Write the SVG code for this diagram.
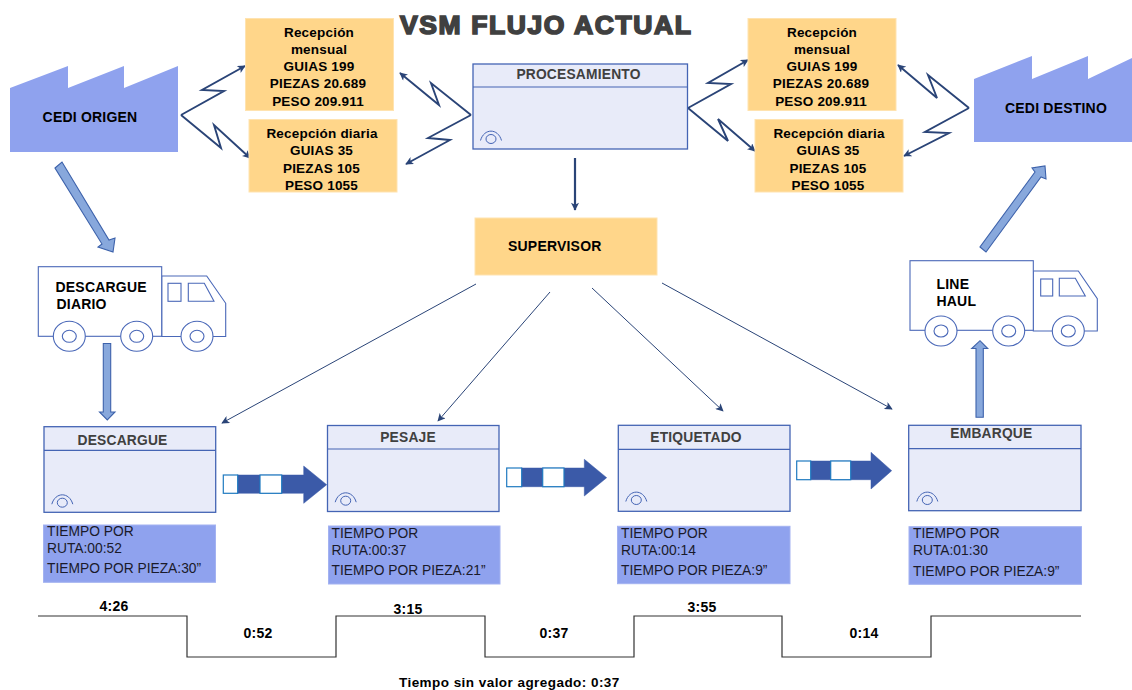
<svg xmlns="http://www.w3.org/2000/svg" xmlns:xlink="http://www.w3.org/1999/xlink" width="1132" height="690" viewBox="0 0 1132 690">
<style>
text{font-family:"Liberation Sans",Arial,sans-serif;fill:#000}
.b{font-weight:bold;font-size:13.5px;letter-spacing:.2px}
.k{font-weight:bold;font-size:14px;letter-spacing:.2px}
.m{text-anchor:middle}
.g{fill:#404040;font-size:13.8px;font-weight:bold;letter-spacing:.2px}
.d{font-size:13.8px;fill:#1a1a2a}
.y{fill:#ffd68a;stroke:#ffe3b0;stroke-width:1}
.f{fill:#8fa2ee}
.db{fill:#8fa2ee;stroke:#a3b2f1;stroke-width:1}
.p{fill:#e8ebf9;stroke:#4464b4;stroke-width:1.3}
.l{stroke:#4464b4;stroke-width:1.2;fill:none}
.t{fill:#fff;stroke:#4a68b8;stroke-width:1.1}
.z{fill:none;stroke:#2a4477;stroke-width:1.9}
.thin{stroke:#2a4477;stroke-width:1;fill:none}
.ba{fill:#88a8dc;stroke:#3d62ab;stroke-width:1.1}
.sa{fill:#3b5aa8;stroke:#3b5aa8;stroke-width:.5}
.ws{fill:#fff;stroke:#1f7ac0;stroke-width:1.2}
.tl{fill:none;stroke:#333;stroke-width:1.2}
</style>
<defs>
<marker id="ah" viewBox="0 0 10 10" refX="9" refY="5" markerWidth="9" markerHeight="8" markerUnits="userSpaceOnUse" orient="auto"><path d="M0 0L10 5L0 10L2.500 5Z" fill="#2a4477"/></marker>
<g id="eye"><path d="M-10.500 1.500C-7-11 7-11 10.500 1.500" fill="none" stroke="#4464b4" stroke-width="1"/><ellipse rx="5" ry="4.500" fill="none" stroke="#4464b4" stroke-width="1"/></g>
<g id="wheel"><ellipse rx="16" ry="15" class="t"/><ellipse rx="7" ry="6" class="t"/></g>
</defs>

<g id="title"><text x="400" y="33.500" font-size="26.500" font-weight="bold" textLength="291" lengthAdjust="spacing" style="fill:#404040;stroke:#404040;stroke-width:1.700">VSM FLUJO ACTUAL</text></g>

<g id="connectors">
<path class="z" marker-end="url(#ah)" d="M181 115L224 91L202 90L245 66"/>
<path class="z" marker-end="url(#ah)" d="M181 115L221 148L214 125L250 158"/>
<path class="z" marker-end="url(#ah)" d="M471 115L431 83L439 105L400 73"/>
<path class="z" marker-end="url(#ah)" d="M471 115L428 138L450 140L406 164"/>
<path class="z" marker-end="url(#ah)" d="M688 108L731 84L708 83L748 60"/>
<path class="z" marker-end="url(#ah)" d="M688 108L728 141L718 119L755 151"/>
<path class="z" marker-end="url(#ah)" d="M969 108L928 75L937 98L898 65"/>
<path class="z" marker-end="url(#ah)" d="M969 108L925 132L949 133L904 156"/>
<path class="z" style="stroke-width:2.200" marker-end="url(#ah)" d="M575 158V210"/>
<path class="thin" marker-end="url(#ah)" d="M476 284L222 423"/>
<path class="thin" marker-end="url(#ah)" d="M550 292L438 421"/>
<path class="thin" marker-end="url(#ah)" d="M592 288L723 411"/>
<path class="thin" marker-end="url(#ah)" d="M662 283L892 409"/>
<polygon class="ba" points="55,168 62,162 109,240 115,238 113,252 98,247 102,244"/>
<polygon class="ba" points="980,247 986,252 1041,177 1046,179 1045,166 1032,168 1035,172"/>
<polygon class="ba" points="103.300,343.500 110.700,343.500 110.700,412 115,412 107.300,420 99.500,412 103.300,412"/>
<polygon class="ba" points="976,417.300 983.300,417.300 983.300,348.500 987.700,348.500 980,340.700 971.700,348.500 976,348.500"/>
<g id="push1"><polygon class="sa" points="237,475 303.700,475 303.700,466 326.700,484.700 303.700,503.300 303.700,493.300 237,493.300"/><rect class="ws" x="223.300" y="475" width="14.400" height="18.300"/><rect class="ws" x="260" y="475" width="21.700" height="18.300"/></g>
<g id="push2"><polygon class="sa" points="521,468 584.300,468 584.300,459.300 606.700,477.700 584.300,496 584.300,486.700 521,486.700"/><rect class="ws" x="506.700" y="468" width="15" height="18.700"/><rect class="ws" x="542.700" y="468" width="21.300" height="18.700"/></g>
<g id="push3"><polygon class="sa" points="810,461 871,461 871,452.300 891.700,470.700 871,489 871,479.700 810,479.700"/><rect class="ws" x="796.700" y="461" width="14" height="18.700"/><rect class="ws" x="830.700" y="461" width="20" height="18.700"/></g>
</g>

<g id="cedi-origen"><polygon class="f" points="10,88 68,66 68,88 124,66 124,88 178,66 178,152 10,152"/><text class="k m" x="90" y="122">CEDI ORIGEN</text></g>
<g id="cedi-destino"><polygon class="f" points="974,79 1032,56 1032,79 1088,56 1088,79 1132,58 1132,142 974,142"/><text class="k m" x="1056" y="113">CEDI DESTINO</text></g>

<g id="recepcion-mensual-1"><rect class="y" x="245.500" y="18.500" width="148" height="92"/><text class="b m" x="319" y="37">Recepción</text><text class="b m" x="319" y="54">mensual</text><text class="b m" x="319" y="71">GUIAS 199</text><text class="b m" x="318" y="88">PIEZAS 20.689</text><text class="b m" x="318" y="106">PESO 209.911</text></g>
<g id="recepcion-diaria-1"><rect class="y" x="249" y="119.500" width="148" height="72.500"/><text class="b m" x="322" y="138">Recepción diaria</text><text class="b m" x="321.500" y="155">GUIAS 35</text><text class="b m" x="321.500" y="173">PIEZAS 105</text><text class="b m" x="321.500" y="190">PESO 1055</text></g>
<g id="recepcion-mensual-2"><rect class="y" x="748" y="18.500" width="148" height="92"/><text class="b m" x="822" y="37">Recepción</text><text class="b m" x="822" y="54">mensual</text><text class="b m" x="822" y="71">GUIAS 199</text><text class="b m" x="821" y="88">PIEZAS 20.689</text><text class="b m" x="821" y="106">PESO 209.911</text></g>
<g id="recepcion-diaria-2"><rect class="y" x="755" y="119.500" width="148" height="72.500"/><text class="b m" x="829" y="138">Recepción diaria</text><text class="b m" x="828" y="155">GUIAS 35</text><text class="b m" x="828" y="173">PIEZAS 105</text><text class="b m" x="828" y="190">PESO 1055</text></g>

<g id="procesamiento"><rect class="p" x="473" y="64" width="214.500" height="85"/><path class="l" d="M473 87H687.500"/><text class="g m" x="578.500" y="79">PROCESAMIENTO</text><use xlink:href="#eye" href="#eye" x="491" y="139"/></g>
<g id="supervisor"><rect class="y" x="475" y="218" width="182" height="57"/><text class="k" x="508" y="251">SUPERVISOR</text></g>

<g id="truck-descargue">
<path class="t" d="M161.700 276H206.700L225.700 303.300V336.500H161.700Z"/>
<rect class="t" x="38.300" y="266.700" width="123.400" height="69.600"/>
<rect class="t" x="168" y="283.300" width="13" height="18"/>
<path class="t" d="M188.300 283.300H204.300L214 301.300H188.300Z"/>
<use xlink:href="#wheel" href="#wheel" x="69.300" y="336.300"/><use xlink:href="#wheel" href="#wheel" x="136.700" y="336.300"/><use xlink:href="#wheel" href="#wheel" x="197" y="336.300"/>
<text class="k" x="55.500" y="291.500">DESCARGUE</text><text class="k" x="56.500" y="308.500">DIARIO</text>
</g>
<g id="truck-line-haul">
<path class="t" d="M1033.300 271H1078.300L1097.300 298.700V331H1033.300Z"/>
<rect class="t" x="910" y="260.700" width="123.300" height="69.600"/>
<rect class="t" x="1040.700" y="279" width="12" height="17"/>
<path class="t" d="M1059.300 278.300H1075.300L1085.300 296H1059.300Z"/>
<use xlink:href="#wheel" href="#wheel" x="941" y="331"/><use xlink:href="#wheel" href="#wheel" x="1008.700" y="331"/><use xlink:href="#wheel" href="#wheel" x="1068.300" y="331"/>
<text class="k" x="936.500" y="289">LINE</text><text class="k" x="936.500" y="306">HAUL</text>
</g>

<g id="descargue"><rect class="p" x="44" y="426.700" width="171.700" height="85.600"/><path class="l" d="M44 450.300H215.700"/><text class="g" x="77.500" y="444.700">DESCARGUE</text><use xlink:href="#eye" href="#eye" x="62.300" y="502.700"/></g>
<g id="pesaje"><rect class="p" x="327.500" y="425.500" width="171.500" height="86"/><path class="l" d="M327.500 449H499"/><text class="g m" x="408" y="442">PESAJE</text><use xlink:href="#eye" href="#eye" x="345.700" y="500.700"/></g>
<g id="etiquetado"><rect class="p" x="618.300" y="425.300" width="171.700" height="86"/><path class="l" d="M618.300 449.300H790"/><text class="g" x="650.300" y="442">ETIQUETADO</text><use xlink:href="#eye" href="#eye" x="636.300" y="500"/></g>
<g id="embarque"><rect class="p" x="908.700" y="425.300" width="172.300" height="85.400"/><path class="l" d="M908.700 448.700H1081"/><text class="g" x="950.300" y="438">EMBARQUE</text><use xlink:href="#eye" href="#eye" x="927.300" y="500"/></g>

<g id="datos-descargue"><rect class="db" x="43.500" y="525" width="172" height="57.300"/><text class="d" x="47" y="536">TIEMPO POR</text><text class="d" x="47" y="553">RUTA:00:52</text><text class="d" x="47" y="573">TIEMPO POR PIEZA:30”</text></g>
<g id="datos-pesaje"><rect class="db" x="328.500" y="526" width="171.500" height="58"/><text class="d" x="331.500" y="538">TIEMPO POR</text><text class="d" x="331.500" y="555">RUTA:00:37</text><text class="d" x="331.500" y="575">TIEMPO POR PIEZA:21”</text></g>
<g id="datos-etiquetado"><rect class="db" x="617.500" y="526.300" width="172.500" height="57.400"/><text class="d" x="621" y="538">TIEMPO POR</text><text class="d" x="621" y="555">RUTA:00:14</text><text class="d" x="621" y="575">TIEMPO POR PIEZA:9”</text></g>
<g id="datos-embarque"><rect class="db" x="909" y="526.700" width="172.500" height="57.600"/><text class="d" x="913" y="538">TIEMPO POR</text><text class="d" x="913" y="555">RUTA:01:30</text><text class="d" x="913" y="576">TIEMPO POR PIEZA:9”</text></g>

<g id="timeline">
<path class="tl" d="M38 616H187V657H336V616H485V657H634V616H782V657H931V616H1081"/>
<text class="k m" x="114" y="611">4:26</text><text class="k m" x="258" y="638">0:52</text><text class="k m" x="408" y="614">3:15</text><text class="k m" x="554" y="638">0:37</text><text class="k m" x="702" y="612">3:55</text><text class="k m" x="864" y="638">0:14</text>
<text class="b" x="399" y="687" style="letter-spacing:.45px">Tiempo sin valor agregado: 0:37</text>
</g>
</svg>
